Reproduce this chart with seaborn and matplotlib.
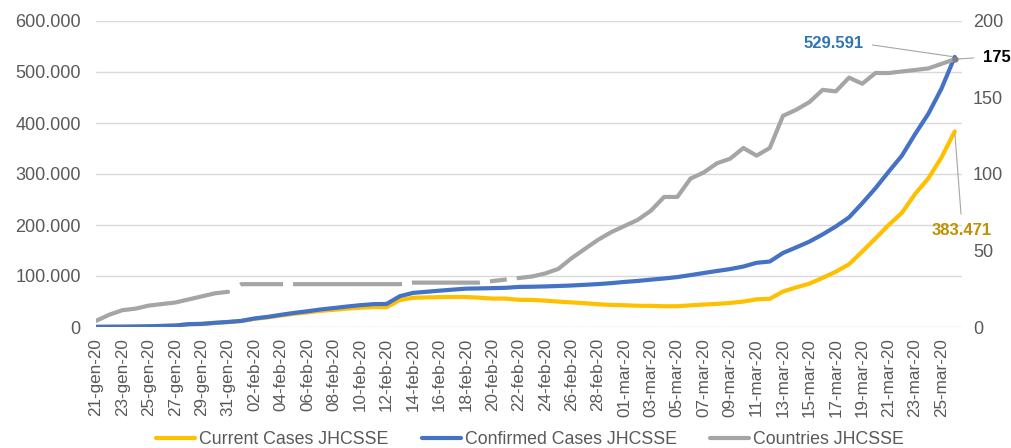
import numpy as np
import pandas as pd
import matplotlib
matplotlib.use("Agg")
import matplotlib.pyplot as plt
import seaborn as sns
from matplotlib.ticker import FuncFormatter

# Daily categories, 21-gen-20 .. 26-mar-20 (Italian month names)
dates = pd.date_range("2020-01-21", "2020-03-26", freq="D")
mesi = {1: "gen", 2: "feb", 3: "mar"}
date_labels = [f"{d.day:02d}-{mesi[d.month]}-20" for d in dates]

# Confirmed cases JHCSSE
confirmed = [282, 555, 654, 941, 1434, 2118, 2927, 5578, 6166, 8234, 9927,
             12038, 16787, 19887, 23898, 27643, 30802, 34395, 37129, 40160, 42769,
             44811, 45229, 60381, 66908, 69052, 71235, 73270, 75152, 75653, 76213,
             76841, 78602, 78982, 79546, 80399, 81376, 82733, 84124, 86013,
             88371, 90309, 92844, 95124, 97886, 101800, 105836, 109835, 113582,
             118582, 125865, 128343, 145193, 156097, 167449, 181531, 197146,
             214910, 242708, 272166, 304524, 335955, 378287, 417966, 467594, 529591]

# Current (active) cases JHCSSE
current = [276, 510, 606, 879, 1353, 2010, 2784, 5340, 5907, 7920, 9492,
           11495, 15953, 18838, 22554, 25955, 28681, 31665, 33707, 36010, 37810,
           39015, 38961, 52715, 57327, 57991, 58600, 58819, 58793, 57410, 55789,
           55700, 53258, 53119, 51690, 49786, 48222, 46642, 44541, 43290,
           42659, 41622, 41456, 40700, 40742, 42475, 43920, 45339, 47100,
           49916, 54247, 55299, 69538, 77654, 84975, 96317, 108401,
           122970, 147987, 173611, 200052, 223842, 260816, 291351, 332626, 383471]

# Countries JHCSSE (right axis)
countries = [4, 8, 11, 12, 14, 15, 16, 18, 20, 22, 23,
             28, 28, 28, 28, 28, 28, 28, 28, 28, 28,
             28, 28, 28, 29, 29, 29, 29, 29, 29, 30,
             31, 32, 33, 35, 38, 45, 51, 57, 62,
             66, 70, 76, 85, 85, 97, 101, 107, 110,
             117, 112, 117, 138, 142, 147, 155, 154,
             163, 159, 166, 166, 167, 168, 169, 172, 175]

df = pd.DataFrame({"day": np.arange(len(dates)), "confirmed": confirmed,
                   "current": current, "countries": countries})

YELLOW = "#FFC000"
BLUE = "#4472C4"
GRAY = "#A5A5A5"
TXT = "#595959"

sns.set_style("white")
plt.rcParams["font.family"] = ["Liberation Sans", "DejaVu Sans"]
plt.rcParams["lines.scale_dashes"] = False

W, H = 1012, 448
fig = plt.figure(figsize=(W / 100, H / 100), dpi=100)
ax = fig.add_axes([96 / W, 1 - 327 / H, (962 - 96) / W, (327 - 21) / H])

sns.lineplot(data=df, x="day", y="current", ax=ax, color=YELLOW, lw=3,
             label="Current Cases JHCSSE", solid_joinstyle="round")
sns.lineplot(data=df, x="day", y="confirmed", ax=ax, color=BLUE, lw=3,
             label="Confirmed Cases JHCSSE", solid_joinstyle="round")

ax.set_xlim(0, 65.55)
ax.set_ylim(0, 600000)
ax.set_yticks(range(0, 600001, 100000))
ax.yaxis.set_major_formatter(FuncFormatter(lambda v, p: f"{int(v):,}".replace(",", ".")))
ax.grid(axis="y", color="#D9D9D9", lw=1)
ax.set_axisbelow(True)
ax.set_xticks(df["day"][::2])
ax.set_xticklabels(date_labels[::2], rotation=90, fontsize=12.3, color=TXT)
ax.tick_params(axis="x", length=0, pad=8)
ax.tick_params(axis="y", length=0, pad=11, labelsize=13, labelcolor=TXT)
ax.set_xlabel("")
ax.set_ylabel("")
for s in ax.spines.values():
    s.set_visible(False)
if ax.get_legend():
    ax.get_legend().remove()

# secondary axis: countries (gap in Feb drawn dashed)
ax2 = ax.twinx()
part1 = df[df["day"] <= 10]
part2 = df[(df["day"] >= 10) & (df["day"] <= 33)]
part3 = df[df["day"] >= 33]
sns.lineplot(data=part1, x="day", y="countries", ax=ax2, color=GRAY, lw=3,
             label="Countries JHCSSE", solid_joinstyle="round")
sns.lineplot(data=part2, x="day", y="countries", ax=ax2, color=GRAY, lw=3)
dash_px = [43, 10, 109, 10, 68, 10, 17, 10, 16, 14]
dash_pt = [v * 0.72 for v in dash_px]
ax2.lines[-1].set_linestyle((sum(dash_pt) - dash_pt[-1], dash_pt))
ax2.lines[-1].set_dash_capstyle("butt")
sns.lineplot(data=part3, x="day", y="countries", ax=ax2, color=GRAY, lw=3,
             solid_joinstyle="round")
ax2.plot(df["day"].iloc[-1], countries[-1], "o", ms=3.5, color="#7F7F7F", zorder=5)

ax2.set_ylim(0, 200)
ax2.set_yticks(range(0, 201, 50))
ax2.tick_params(axis="y", length=0, pad=8, labelsize=13, labelcolor=TXT)
ax2.set_ylabel("")
ax2.grid(False)
for s in ax2.spines.values():
    s.set_visible(False)
if ax2.get_legend():
    ax2.get_legend().remove()

# data labels
last = df["day"].iloc[-1]
arrow = dict(arrowstyle="-", color="#A6A6A6", lw=0.8, shrinkA=4, shrinkB=2)
ax.annotate(f"{confirmed[-1]:,}".replace(",", "."), xy=(last, confirmed[-1]),
            xytext=(-65.5, 9.5), textcoords="offset points", ha="right", va="center",
            fontsize=12, fontweight="bold", color="#2E75B6",
            arrowprops=dict(arrow, relpos=(1, 0.5)))
ax2.annotate(f"{countries[-1]}", xy=(last, countries[-1]),
             xytext=(20, 1.4), textcoords="offset points", ha="left", va="center",
             fontsize=12, fontweight="bold", color="black",
             arrowprops=dict(arrow, relpos=(0, 0.5)))
ax.annotate(f"{current[-1]:,}".replace(",", "."), xy=(last, current[-1]),
            xytext=(5, -71.3), textcoords="offset points", ha="center", va="center",
            fontsize=12, fontweight="bold", color="#BF9000",
            arrowprops=dict(arrow, relpos=(0.5, 1)))

handles = ax.get_lines()[:2] + ax2.get_lines()[:1]
labels = ["Current Cases JHCSSE", "Confirmed Cases JHCSSE", "Countries JHCSSE"]
fig.legend(handles, labels, loc="lower center", bbox_to_anchor=(530 / W, -0.036),
           ncol=3, frameon=False, fontsize=12.8, handlelength=2.2, handletextpad=0.2,
           columnspacing=1.9, labelcolor=TXT)

fig.savefig("out.png", dpi=100)
